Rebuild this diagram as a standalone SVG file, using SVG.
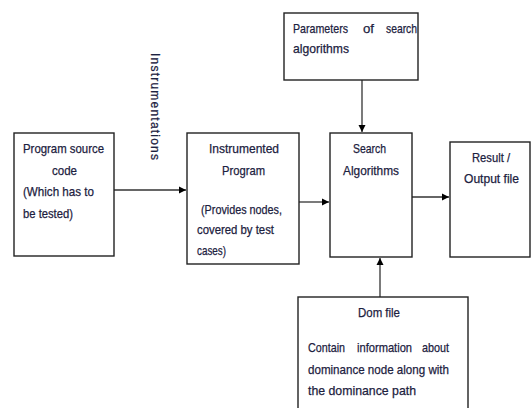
<svg xmlns="http://www.w3.org/2000/svg" width="531" height="408" viewBox="0 0 531 408">
<style>
.box{fill:#fff;stroke:#222;stroke-width:1.4}
.t{font-family:"Liberation Sans",Arial,sans-serif;font-size:13px;fill:#1c2140;stroke:#1c2140;stroke-width:0.25}
.conn{stroke:#333;stroke-width:1.3;fill:none}
</style>
<defs>
<marker id="ah" markerWidth="8" markerHeight="8" refX="7" refY="4" orient="auto" markerUnits="userSpaceOnUse">
<path d="M0,0.5 L7,4 L0,7.5 z" fill="#000"/>
</marker>
</defs>
<rect width="531" height="408" fill="#fff"/>
<g id="connectors">
<line class="conn" x1="114" y1="190" x2="186" y2="190" marker-end="url(#ah)"/>
<line class="conn" x1="299" y1="202" x2="329" y2="202" marker-end="url(#ah)"/>
<line class="conn" x1="412" y1="197" x2="449" y2="197" marker-end="url(#ah)"/>
<line class="conn" x1="362" y1="80" x2="362" y2="132" marker-end="url(#ah)"/>
<line class="conn" x1="380" y1="297" x2="380" y2="258" marker-end="url(#ah)"/>
</g>
<g id="instrumentations-label">
<text class="t" style="font-size:12px" transform="translate(151,53) rotate(90)" textLength="107" lengthAdjust="spacing">Instrumentations</text>
</g>
<g id="source">
<rect class="box" x="14" y="133" width="100" height="123"/>
<text class="t" x="23" y="153" textLength="81" lengthAdjust="spacingAndGlyphs">Program source</text>
<text class="t" x="52" y="175" textLength="25" lengthAdjust="spacingAndGlyphs">code</text>
<text class="t" x="23" y="196" textLength="71" lengthAdjust="spacingAndGlyphs">(Which  has to</text>
<text class="t" x="23" y="218" textLength="50" lengthAdjust="spacingAndGlyphs">be tested)</text>
</g>
<g id="instrumented">
<rect class="box" x="187" y="133" width="112" height="131"/>
<text class="t" x="209" y="153" textLength="70" lengthAdjust="spacingAndGlyphs">Instrumented</text>
<text class="t" x="222" y="175" textLength="43" lengthAdjust="spacingAndGlyphs">Program</text>
<text class="t" x="201" y="214" textLength="81" lengthAdjust="spacingAndGlyphs">(Provides nodes,</text>
<text class="t" x="197" y="234" textLength="77" lengthAdjust="spacingAndGlyphs">covered by test</text>
<text class="t" x="197" y="255" textLength="29" lengthAdjust="spacingAndGlyphs">cases)</text>
</g>
<g id="search">
<rect class="box" x="330" y="133" width="82" height="124"/>
<text class="t" x="353" y="153" textLength="33" lengthAdjust="spacingAndGlyphs">Search</text>
<text class="t" x="343" y="175" textLength="56" lengthAdjust="spacingAndGlyphs">Algorithms</text>
</g>
<g id="result">
<rect class="box" x="450" y="142" width="80" height="115"/>
<text class="t" x="472" y="162" textLength="38" lengthAdjust="spacingAndGlyphs">Result /</text>
<text class="t" x="464" y="183" textLength="55" lengthAdjust="spacingAndGlyphs">Output file</text>
</g>
<g id="parameters">
<rect class="box" x="284" y="13" width="134" height="67"/>
<text class="t" x="293" y="33" textLength="55" lengthAdjust="spacingAndGlyphs">Parameters</text>
<text class="t" x="363" y="33" textLength="11" lengthAdjust="spacingAndGlyphs">of</text>
<text class="t" x="386" y="33" textLength="31" lengthAdjust="spacingAndGlyphs">search</text>
<text class="t" x="293" y="53" textLength="56" lengthAdjust="spacingAndGlyphs">algorithms</text>
</g>
<g id="dom">
<rect class="box" x="298" y="297" width="170" height="120"/>
<text class="t" x="358" y="317" textLength="42" lengthAdjust="spacingAndGlyphs">Dom file</text>
<text class="t" x="308" y="352" textLength="37" lengthAdjust="spacingAndGlyphs">Contain</text>
<text class="t" x="357" y="352" textLength="55" lengthAdjust="spacingAndGlyphs">information</text>
<text class="t" x="422" y="352" textLength="27" lengthAdjust="spacingAndGlyphs">about</text>
<text class="t" x="308" y="374" textLength="141" lengthAdjust="spacingAndGlyphs">dominance node along with</text>
<text class="t" x="308" y="395" textLength="108" lengthAdjust="spacingAndGlyphs">the dominance path</text>
</g>
</svg>
